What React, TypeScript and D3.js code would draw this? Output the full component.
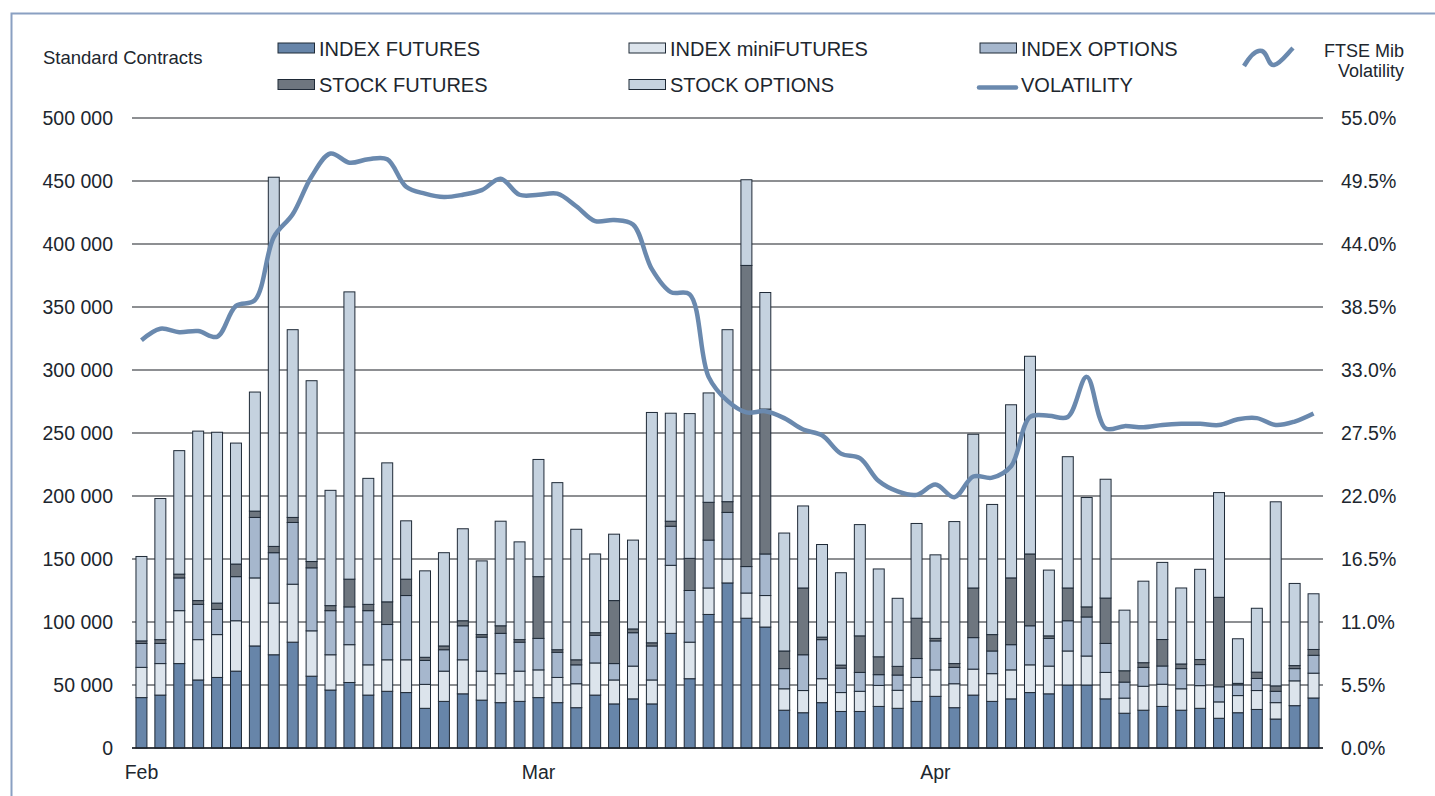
import React from "react";
import * as d3 from "d3";

const categories: number[] = d3.range(63);
const monthLabels = [
  { idx: 0, label: "Feb" },
  { idx: 21, label: "Mar" },
  { idx: 42, label: "Apr" },
];

const indexFutures = [40,42,67,54,56,61,81,74,84,57,46,52,42,45,44,31.5,37,43,38,36,37,40,36,32,42,35,39,35,91,55,106,131,103,96,30,28,36,29,29,33,31.5,37,41,32,42,37,39,44,43,50,50,39,27.6,30,33,30,31.5,23.6,28,30.6,23,33.6,39.7];
const indexMiniFutures = [24,25,42,32,34,40,54,41,46,36,28,30,24,25,26,19,24,27,23,23,24,22,20,19,25.5,19,26,19,54,29,21,19,20,25,17,17.6,19,15,16,16.7,14.3,19,21,19,20.6,22,23,22,22,27,23,21,12,19,17.6,17,18,13,13.6,15,13,19.7,19.7];
const indexOptions = [19,16,26,28,20,35,48,40,49,50,35,30,43,28,51,19,17,27,27,32,23,25,20,15,22,13,26.5,27,31,41,38,37,21,33,16,28.4,31,19.4,15,8.5,12.1,15,23,13,25,18,20,31,22,24,31,23,12.7,15,14.5,16,16.7,12,8.5,9.6,9,9.7,14.2];
const stockFutures = [2,3,3,3,5,10,5,5,4,5,4,22,5,18,13,2.5,3,4,2,6,2,49,2,4,2,50,3,2.5,4,25.5,30,8.5,239,115,14,53,2,2.4,29,14.2,6.9,32,2,3,39.4,13,53,57,2,26,8,36,9,3.7,21,3.7,4,71,1.2,5,4.3,2.4,4.6];
const stockOptions = [67,112,98,134.5,135.6,96,94.5,293,149,143.5,91.5,228,100,110.3,46.3,68.6,74,73,58.5,83,77.6,93,132.6,103.6,62.5,52.7,70.5,182.8,85.7,114.9,86.8,136.5,68,92.5,93.6,65.1,73.5,73.3,88.3,69.7,54,75.2,66.3,112.7,122,103.3,137.4,156.9,52.2,104.2,86.8,94.3,48.1,64.7,61.2,60.3,71.6,83.1,35.4,50.7,146.1,65.2,44.2];
const volatility = [35.6,36.6,36.3,36.4,35.9,38.6,39.1,44.6,46.6,49.9,51.9,51.1,51.4,51.4,49.0,48.4,48.1,48.3,48.7,49.7,48.3,48.3,48.4,47.3,46.0,46.1,45.7,41.8,39.8,39.6,32.4,30.3,29.3,29.4,28.8,27.8,27.3,25.7,25.3,23.3,22.4,22.1,23.0,21.9,23.7,23.6,24.6,28.9,29.0,28.9,32.4,27.9,28.1,28.0,28.2,28.3,28.3,28.2,28.7,28.8,28.2,28.5,29.2];

const leftTicks = [0, 50000, 100000, 150000, 200000, 250000, 300000, 350000, 400000, 450000, 500000];
const rightTicks = [0, 5.5, 11, 16.5, 22, 27.5, 33, 38.5, 44, 49.5, 55];

const seriesNames = ["INDEX FUTURES", "INDEX miniFUTURES", "INDEX OPTIONS", "STOCK FUTURES", "STOCK OPTIONS"];
const seriesColors = ["#6785a9", "#dce4ec", "#a6b7cd", "#6e767f", "#c5d2df"];
const lineColor = "#6a89ae";
const textColor = "#20262e";
const FONT = "'Liberation Sans', Arial, sans-serif";

export default function App() {
  const W = 1435, H = 796;
  const x = d3.scaleBand<number>().domain(categories).range([132, 1323]).paddingInner(0.42).paddingOuter(0.21);
  const y = d3.scaleLinear().domain([0, 500000]).range([748, 118]);
  const yR = d3.scaleLinear().domain([0, 55]).range([748, 118]);

  const rows = categories.map((i) => ({
    i,
    s0: indexFutures[i] * 1000,
    s1: indexMiniFutures[i] * 1000,
    s2: indexOptions[i] * 1000,
    s3: stockFutures[i] * 1000,
    s4: stockOptions[i] * 1000,
  }));
  const stack = d3.stack<any>().keys(["s0", "s1", "s2", "s3", "s4"]);
  const stacked = stack(rows);

  const fmtL = d3.formatLocale({ decimal: ".", thousands: " ", grouping: [3], currency: ["", ""] }).format(",");
  const fmtR = d3.format(".1f");

  const line = d3
    .line<number>()
    .x((_, i) => (x(i) as number) + x.bandwidth() / 2)
    .y((d) => yR(d))
    .curve(d3.curveCatmullRom.alpha(0.5));

  const legend = [
    { name: seriesNames[0], color: seriesColors[0], col: 0, row: 0 },
    { name: seriesNames[1], color: seriesColors[1], col: 1, row: 0 },
    { name: seriesNames[2], color: seriesColors[2], col: 2, row: 0 },
    { name: seriesNames[3], color: seriesColors[3], col: 0, row: 1 },
    { name: seriesNames[4], color: seriesColors[4], col: 1, row: 1 },
  ];
  const colX = [278, 629, 980];
  const rowY = [55.5, 92];

  return (
    <div style={{ position: "absolute", left: 0, top: 0 }}>
      <svg width={W} height={H} style={{ display: "block", background: "#fff" }} fontFamily={FONT}>
        <rect x={11.5} y={13.5} width={1440} height={800} fill="none" stroke="#8aa0c2" strokeWidth={2} />
        <text x={43} y={64} fontSize={18.5} fill={textColor}>Standard Contracts</text>

        {legend.map((l) => (
          <g key={l.name}>
            <rect x={colX[l.col]} y={rowY[l.row] - 12.5} width={36.5} height={10} fill={l.color} stroke="#1f2a37" strokeWidth={1} />
            <text x={colX[l.col] + 41} y={rowY[l.row]} fontSize={20} fill={textColor}>{l.name}</text>
          </g>
        ))}
        <line x1={979} x2={1016} y1={87.5} y2={87.5} stroke={lineColor} strokeWidth={4.5} strokeLinecap="round" />
        <text x={1021} y={92} fontSize={20} fill={textColor}>VOLATILITY</text>

        <path d="M1244,66 C1250,56 1256,49 1262,51 C1268,53 1268,66 1274,65 C1280,64 1287,54 1293,48" fill="none" stroke={lineColor} strokeWidth={4.5} />
        <text x={1404} y={57} fontSize={18} textAnchor="end" fill={textColor}>FTSE Mib</text>
        <text x={1404} y={77} fontSize={18} textAnchor="end" fill={textColor}>Volatility</text>

        {leftTicks.map((t) => (
          <g key={t}>
            <line x1={132} x2={1323} y1={y(t)} y2={y(t)} stroke="#1c2027" strokeWidth={1.2} />
            <text x={113} y={y(t)} dy="0.35em" fontSize={19.5} textAnchor="end" fill={textColor}>{fmtL(t)}</text>
          </g>
        ))}
        {rightTicks.map((t) => (
          <text key={t} x={1341} y={yR(t)} dy="0.35em" fontSize={19.5} fill={textColor}>{fmtR(t)}%</text>
        ))}

        {stacked.map((s, si) => (
          <g key={si} fill={seriesColors[si]} stroke="#1f2a37" strokeWidth={1}>
            {s.map((d, i) => (
              <rect key={i} x={x(i)} y={y(d[1])} width={x.bandwidth()} height={Math.max(0, y(d[0]) - y(d[1]))} />
            ))}
          </g>
        ))}

        <line x1={132} x2={1323} y1={y(0)} y2={y(0)} stroke="#1c2027" strokeWidth={1.3} />

        <path d={line(volatility) || ""} fill="none" stroke={lineColor} strokeWidth={4.5} strokeLinejoin="round" />

        {monthLabels.map((m) => (
          <text key={m.label} x={(x(m.idx) as number) + x.bandwidth() / 2} y={779} fontSize={19.5} textAnchor="middle" fill={textColor}>{m.label}</text>
        ))}
      </svg>
    </div>
  );
}
